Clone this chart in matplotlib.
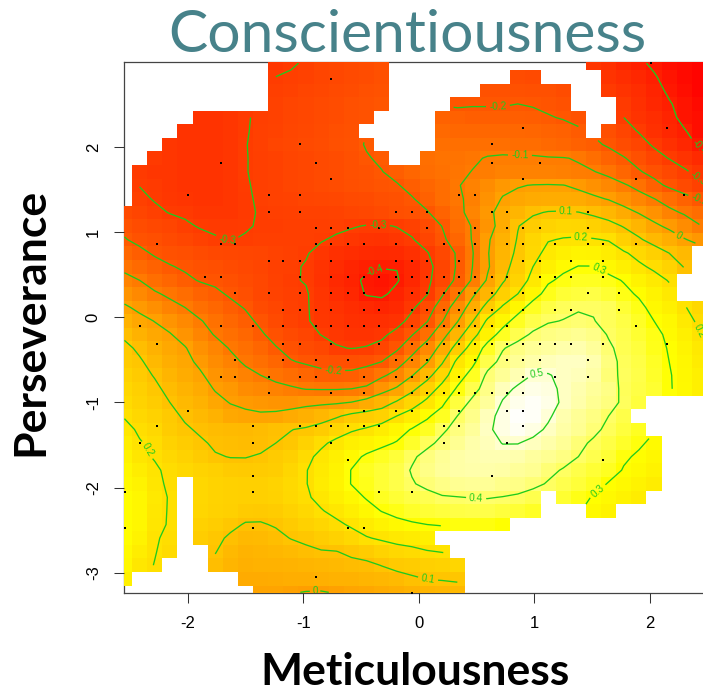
import numpy as np
import matplotlib
matplotlib.use('Agg')
import matplotlib.pyplot as plt
from matplotlib.colors import LinearSegmentedColormap

n = np.nan

# smoothed score, in hundredths, one row per grid line, top row first (39 columns)
score_rows = [
    [n]*10 + [-32,-31,-29,-27,-26,-25,-24,-23] + [n]*13 + [-32,-34,-37,-39,-41,-43,-44,-45],
    [n]*10 + [-30,-29,-28,-27,-26,-25,-24,-23] + [n]*8 + [-24,-25] + [n]*4 + [-33,-35,-37,-39.5,-42,-44,-45],
    [n]*10 + [-29,-28,-27,-26,-25,-24,-23,-22] + [n]*6 + [-22.5,-22.5,-22.5,-23,-23,-24] + [n]*2 + [-31,-33,-35,-38,-41,-43,-45],
    [n]*10 + [-28,-27,-26,-25,-24,-23,-22,-21] + [n]*4 + [-21,-20.5,-20.5,-20.5,-20,-20.5,-21.5,-22.5] + [n]*3 + [-31,-34,-37,-39.5,-42,-44],
    [n]*5 + [-33,-33,-32,-30.5,-29,-28,-27,-26,-25,-24,-23,-22] + [n]*4 + [-17,-17.5,-18,-18,-18,-18,-18.5,-19.5,-20.5,-22] + [n]*2 + [-30,-33,-35,-38,-42,-43],
    [n]*4 + [-33,-33,-33,-32,-30.5,-28.5,-27.5,-26.5,-25.5,-24.5,-23.5,-22.5] + [n]*5 + [-15,-15.5,-15.5,-15.5,-15.5,-15.5,-16,-16.5,-17.5,-19] + [n] + [-23.5,-27,-30.5,-34,-37,-39.5,-43],
    [n]*3 + [-32,-33,-33,-33,-32,-30.2,-28.5,-27,-26,-25,-24,-23,-22,-19.5] + [n]*4 + [-13,-13,-13,-13,-13,-14,-14,-15,-16,-17.5,-18.5,-21,-24,-27,-31,-34,-37,-41],
    [n]*2 + [-31,-32,-33,-33,-33,-32,-30.2,-29,-28,-27,-26,-25,-24,-23,-20.5,-19] + [n]*2 + [-13,-12,-12,-11,-9.5,-9,-9,-9,-9.5,-9.7,-10.5,-13.5,-16.5,-19.5,-23,-27,-30.3,-33,-36],
    [n] + [-31,-32,-32,-33,-33,-33,-32,-30.2,-29,-28,-27,-26,-25,-24,-23,-22,-20.2,-18,-16,-14,-12.5,-11.5,-9.8,-9,-8,-8,-8,-8,-8.5,-9,-9.7,-12,-16,-19.3,-22.5,-25.5,-29,-32],
    [n] + [-30.2,-31,-32,-33,-33,-33,-32,-30.5,-29,-28,-27,-26,-25,-24,-23.5,-22.5,-21.5,-20.5,-18,-16,-14,-10.5,-8,-5,-2,-0.5,0.3,0.5,0.2,-1.5,-4,-6.5,-9,-12.5,-17.5,-21.5,-25,-28],
    [n] + [-28.5,-30.5,-31.5,-32.5,-33,-33,-32,-31,-29,-28,-27.5,-27,-26.5,-26,-25,-24.5,-23.5,-22.5,-20.5,-17.5,-14,-11,-8.5,-3.5,0.5,2,3,3.5,3.5,3,1.5,-0.5,-3.6,-6.7,-9.8,-13.5,-17,-20.5],
    [-25,-27,-28.5,-30.3,-31,-32,-32,-32,-31,-29.5,-29,-28.5,-28,-28,-27.5,-27,-26,-25,-23.5,-22.5,-20.5,-16.5,-12.5,-7,-2,3,6,9,10.5,10.8,10.2,8.5,6.5,3,-0.5,-3.5,-8,-11,-14],
    [-22,-24,-25.5,-27,-29,-30.5,-31,-31,-30.5,-29.5,-29.5,-29,-29,-29,-28.5,-29.5,-30.3,-30.5,-29.8,-28,-24.5,-19.8,-14,-9.5,-3,3,9.7,13,15.5,16.5,16,14.5,12.5,9.5,6,1.5,-1.5,-5,-9.5],
    [-19.5,-22,-23.5,-25,-26.5,-28,-29.5,-30.2,-29.5,-29,-29,-29,-29,-29.5,-31,-32,-33,-33.5,-32,-30.5,-27,-21.5,-16,-9.5,-1,5,10.5,16,19.5,20.5,21,20.5,19.5,14.5,11,7,4,0.5,-2.5],
    [-15.5,-18,-21,-22.5,-23.5,-24.5,-25.5,-26,-26.5,-27,-27.5,-28.5,-29.5,-32,-34,-35,-36,-36.5,-36,-34,-30.5,-25.5,-19,-10.5,-0.5,6,11.5,17,22.5,25,26.5,26,24,21,17.5,14,10,7] + [n],
    [-12,-14.5,-17,-19.5,-21,-22.5,-23.5,-24.5,-25.5,-27,-28.5,-29,-30.5,-33,-35.5,-37.5,-39,-39.7,-39.8,-37,-32,-27,-19,-10,-1,7,13.5,20,25,28.5,30.2,30.2,27.5,25,21.5,18.5,15.5,9.5] + [n],
    [-7.5,-10,-13.5,-16,-18.5,-20.5,-21.5,-23,-24.5,-26,-28,-29.5,-30.3,-33.5,-36.5,-38.5,-41,-42,-40.5,-37,-31.5,-26,-18,-9,1,9,15.5,22.5,29,31.5,33,33,32,29.5,26,23,19.5] + [n, n],
    [-3,-6,-9,-11.5,-14,-16.5,-18.5,-21,-23.5,-26,-27.5,-29,-29.5,-32.5,-35,-37,-40.5,-41,-38.5,-34.5,-30.5,-21,-12,-1.5,6,14,20,27,32.5,35,36,36.5,34.5,32,29,26,22.5] + [n, n],
    [1,-1.5,-4.5,-7.5,-10,-13,-15.5,-18,-20.5,-24.5,-26.5,-28.5,-29.5,-32,-33.5,-35,-36.5,-37.5,-36.5,-31.5,-24.5,-15.5,-5,3.5,13,21,27,33,36.5,38.5,39.5,39.5,38.5,35,32,27.5,25,20.5,17],
    [5,2,-0.2,-3,-6,-9.5,-12.5,-15.5,-18,-21.5,-25,-27.5,-29.5,-31.5,-32.5,-34,-34.5,-34.5,-33.5,-27,-20.5,-10.5,-0.5,9.5,21.5,27,33,37,39.5,40.2,41,40.2,38.5,36.5,33.5,30,27.5,23,18.5],
    [8.5,5,2.5,0.5,-3,-7,-10.5,-13,-15.5,-19,-22.5,-25,-27,-30.2,-31.5,-33,-33,-32,-27,-20.5,-13.5,-3,6,17,26,33,37.5,41,42.5,43.5,44,43,39.5,37.5,34.5,32,28.5,25,20.5],
    [12,8.5,5,2.5,0.5,-4,-7,-10.5,-13,-16,-19.5,-22.5,-24.5,-26,-29.5,-30.2,-29.5,-27,-21.5,-13.5,-6,3,13.5,24,33,39.5,42.5,44.5,45.5,46.5,47,45,41,38,36,32.5,29.5,26.5,22.5],
    [12.5,11,7,4,2,-1.5,-5,-8,-11,-13,-16,-19.5,-21,-22,-23,-23.5,-22.5,-20,-14,-7,-0.5,9,22,28,37,42,44.5,46.5,48,49,49,47,42,38.5,36.5,33.5,30,27,23.5],
    [15,12.5,9.5,6,3.5,1,-3,-5,-8,-10,-12,-14,-16,-18,-18.5,-18,-15.5,-11.5,-7,-0.5,7,16,26,33,41.5,44.5,47.5,50.3,50.3,49,48,46,41.5,39,37,34,30.5,27.5,25],
    [16.5,14,11.5,8,5.5,3,-0.5,-2,-5,-6.5,-8,-9,-10.3,-10.5,-10.5,-10,-8.5,-3,1,8,15,23,31,37.5,43,48,51,52.5,51.5,49,47,45,43,38.5,36.5,34.5,30.5,28,25],
    [18,15.5,13,10,7,5,2,-0.3,-1.5,-2.5,-3,-3,-2,-1.5,-1,0.2,3,6,11,16,22,28.5,36,41.5,45,50.5,53,54,52.5,49,46.5,44,42,39,36] + [n]*4,
    [19.5,17,15,12,9,7,5,2.5,1.5,1,1.5,3,4.5,6.5,9,12,13.5,15,20,24,29,33,40,43.5,48,52,54.5,54,51,47,44.5,42.5,40,37] + [n]*5,
    [22,19,17,13,11,9,8,7.5,7,8,9,9.8,11,13,16,19,21,24,27,30.5,33,39,42,45,49,52,53.5,52,49,46,44,41.5,38.5,36,33] + [n]*4,
    [24,20.5,18.5,15,13,11,9,8.5,8,8.5,10,11.5,15,18.5,22,25,26.5,28.5,30.5,34,38.5,41.5,44,46.5,48,50.2,50.2,48.5,46.5,44.5,41.5,39,36.5,34,31,28.5] + [n]*3,
    [25.5,21.5,19.5,17,15,12.5,10.5,9.8,9.8,10.5,12.5,14,18,22,25,28,31,33,35.5,39,42,44.5,46,47,47.5,47.5,47,45.5,44,42.5,40,37.5,35,31,29,27] + [n]*3,
    [27,24,21,18.5,17,15.5,14,12.5,12,12.5,13.5,16,19.7,23,26,30.2,33,35,37,40.5,43,45,46,46.5,46.5,46,45,44,41.5,39.5,37,35,33,29.5,28,26] + [n]*3,
    [28,26,21.5,19,n,16.5,15.5,14.5,14,14,15.5,17.5,19.7,23.5,26.5,30.2,32.5,35,37,39.5,41.5,43,44,44.5,44.5,43.5,43,41.5,39.5,37.5,35.5,33,29.5,28,26,24] + [n]*3,
    [29,27,22.5,19.5,n,16.5,15.5,14.5,14,14,15,17,19,22,25,27.5,30.5,33,35,36.5,38,39.5,39.8,40.2,40.3,39.8,39,37.5,n,34.5,32,29.5,28,26,24] + [n]*4,
    [29,27,22,19.5,n,16,15,14,12.5,12,13,15,17,19.5,22,24.5,27.5,30.2,32,34,35,36,36.5,37,37,36,35,33.5] + [n]*3 + [28,26] + [n]*6,
    [29,27,21.5,19.5,n,14.5,13.5,11.5,9.5,9.5,10.5,12.5,14.5,16,18.5,21,23.5,26,28,29,30,30.5,31,31,31,30] + [n]*13,
    [29,26,20.5,19,n,13.5,11.5,9,7,7.5,8.5,10.2,11.5,13.5,15,17,19.5,21,22.5,23.5,25] + [n]*18,
    [28,24,20.3,18,n,n,10.3,7,5.5,6,6.5,7.5,8.5,9.5,9.8,11.5,13,15.5,17,18,19.5,20.3] + [n]*17,
    [27,22,19.8,n,n,n,8.5,6,4.5,5,5,5.5,6,6.5,7,8,8.5,10.2,12,13,14,15,16] + [n]*16,
    [25] + [n]*7 + [3,3,3.5,4,4,4.5,5,5,6,6.5,7.5,9,10.2,10.5,11] + [n]*16,
    [n]*9 + [1,1,0.5,-0.3,-0.5,0.5,1.5,2,3,4,5,6,6.5,7] + [n]*16,
]

contour_levels = [-0.4, -0.3, -0.2, -0.1, 0, 0.1, 0.2, 0.3, 0.4, 0.5]

# colour of the image at a few score values
stop_values = [-0.46, -0.40, -0.33, -0.20, -0.10, 0.0, 0.10, 0.20, 0.30, 0.55]
stop_colours = ['#ff0000', '#ff1e00', '#ff3400', '#ff5800', '#ff7a00', '#ffa000', '#ffc300', '#ffe100', '#ffff00', '#ffffff']

# observed people: perseverance value and the meticulousness values seen at it
dot_levels = [2.988, 2.8, 2.224, 2.035, 1.812, 1.624, 1.435, 1.235, 1.047, 0.859, 0.659, 0.471, 0.282, 0.082,
              -0.106, -0.318, -0.506, -0.706, -0.894, -1.106, -1.282, -1.471, -1.671, -1.859, -2.047, -2.471,
              -3.047, -3.235]
dot_x = [
    [2.009],
    [-0.762],
    [0.9, 2.147],
    [-1.03, 0.632],
    [-1.714, -0.892, 0.632, 1.048],
    [-0.762, 0.9, 1.879],
    [-2.0, -1.299, -1.03, 0.346, 0.485, 2.294],
    [-1.299, -1.03, -0.199, -0.061, 0.069, 0.632, 0.762, 1.463],
    [-0.892, -0.762, -0.615, -0.346, 0.069, 0.485, 0.762, 0.9, 1.048, 1.463],
    [-2.268, -1.714, -1.593, -0.892, -0.762, -0.615, -0.476, -0.199, 0.216, 0.485, 0.762, 0.9, 1.177, 1.463, 1.593, 1.879],
    [-1.299, -1.177, -1.03, -0.762, -0.199, -0.061, 0.069, 0.346, 0.9, 1.048, 1.316, 1.593],
    [-1.853, -1.714, -1.03, -0.762, -0.615, -0.476, -0.346, -0.199, -0.061, 0.069, 0.216, 0.346, 0.485, 0.632, 0.762, 1.048, 1.177, 1.316, 1.593],
    [-1.593, -1.299, -1.03, -0.762, -0.615, -0.476, -0.061, 0.069, 0.216, 0.346, 0.485, 0.632, 0.9, 1.463, 1.732],
    [-1.177, -1.03, -0.892, -0.762, -0.476, -0.346, -0.061, 0.069, 0.216, 0.346, 0.485, 0.632, 0.9, 1.177, 1.316, 1.732],
    [-2.416, -1.714, -1.437, -1.177, -0.892, -0.762, -0.615, -0.476, -0.346, -0.061, 0.069, 0.216, 0.346, 0.485, 0.632, 0.762, 1.879],
    [-2.268, -1.177, -1.03, -0.762, -0.346, -0.061, 0.069, 0.216, 0.346, 0.485, 0.632, 0.762, 0.9, 1.048, 1.177, 1.316, 1.593, 2.147],
    [-1.593, -1.177, -0.892, -0.615, -0.199, -0.061, 0.069, 0.485, 0.762, 0.9, 1.048, 1.463],
    [-1.714, -1.593, -1.299, -1.03, -0.892, -0.476, -0.199, -0.061, 0.069, 0.346, 0.9, 1.177, 1.463],
    [-1.299, -0.762, -0.476, -0.061, 0.069, 0.216, 0.346, 0.485, 0.632, 0.762, 0.9],
    [-2.0, -0.476, -0.199, -0.061, 0.346, 0.762, 0.9],
    [-2.268, -1.437, -1.03, -0.892, -0.762, -0.615, -0.476, -0.346, 0.216, 0.346, 0.9],
    [-2.416, -1.437, -0.762, 0.216, 0.762],
    [-0.615, 1.593],
    [-1.437, 0.632],
    [-2.545, -1.437, -0.346, -0.061],
    [-2.545, -1.437, -0.615, -0.476],
    [-0.892],
    [-0.061],
]

x_ticks = [-2, -1, 0, 1, 2]
y_ticks = [-3, -2, -1, 0, 1, 2]

# where the contour labels sit
label_spots = [(-1.662, 0.894), (-0.355, 1.059), (2.407, 1.612), (-0.372, 0.494), (2.433, 1.988),
               (-0.745, -0.647), (0.684, 2.518), (2.424, 1.306), (0.874, 1.929), (2.242, 0.941),
               (-0.9, -3.212), (1.273, 1.235), (0.078, -3.071), (1.403, 0.929), (-2.39, -1.588),
               (2.433, -0.235), (1.541, 0.529), (1.558, -2.059), (0.494, -2.153), (1.022, -0.706)]

green = '#1ecb1e'
vmin, vmax = stop_values[0], stop_values[-1]
heat = LinearSegmentedColormap.from_list(
    'heat', [((v - vmin) / (vmax - vmin), c) for v, c in zip(stop_values, stop_colours)])

W, H = 703, 691
fig = plt.figure(figsize=(W / 100, H / 100), dpi=100)
ax = fig.add_axes([124 / W, 1 - 592.7 / H, 579 / W, 530.7 / H])

# grid of the smoother; rows flipped so y runs upward
grid_x = np.linspace(-2.55, 2.428, 39)
grid_y = np.linspace(2.986, -3.231, 40)[::-1]
z = np.flipud(np.array(score_rows, dtype=float)) / 100

ax.pcolormesh(grid_x, grid_y, np.ma.masked_invalid(z), shading='nearest', cmap=heat,
              vmin=vmin, vmax=vmax, antialiased=False, zorder=1)

cs = ax.contour(grid_x, grid_y, z, levels=contour_levels, colors=green, linewidths=0.95,
                negative_linestyles='solid', zorder=2)
labels = ax.clabel(cs, fmt='%g', fontsize=7.2, manual=label_spots, inline_spacing=2)
for t in labels:
    t.set_clip_on(True)
    t.set_family('Liberation Sans')

xs = [v for row in dot_x for v in row]
ys = [lev for lev, row in zip(dot_levels, dot_x) for v in row]
ax.scatter(xs, ys, s=3.5, c='black', marker='s', linewidths=0, zorder=3, clip_on=False)

ax.set_xlim(-2.554, 2.459)
ax.set_ylim(-3.235, 3.0)
ax.set_xticks(x_ticks)
ax.set_yticks(y_ticks)
ax.set_xticklabels([str(v) for v in x_ticks], family='Liberation Sans')
ax.set_yticklabels([str(v) for v in y_ticks], family='Liberation Sans', rotation=90, va='center')
ax.tick_params(length=7.2, width=0.75, color='#333333', labelsize=12, pad=9.5)
ax.spines['right'].set_visible(False)
for side in ['left', 'top', 'bottom']:
    ax.spines[side].set_color('#444444')
    ax.spines[side].set_linewidth(0.9)
    ax.spines[side].set_zorder(0)

fig.text(407 / W, 1 - 36 / H, 'Conscientiousness', family='Lato', fontsize=42.3, color='#47828a',
         ha='center', va='center')
fig.text(415 / W, 1 - 672 / H, 'Meticulousness', family='Lato', fontweight='bold', fontsize=32,
         color='black', ha='center', va='center')
fig.text(30 / W, 1 - 322 / H, 'Perseverance', family='Lato', fontweight='bold', fontsize=32,
         color='black', ha='center', va='center', rotation=90)

fig.savefig('out.png', dpi=100)
